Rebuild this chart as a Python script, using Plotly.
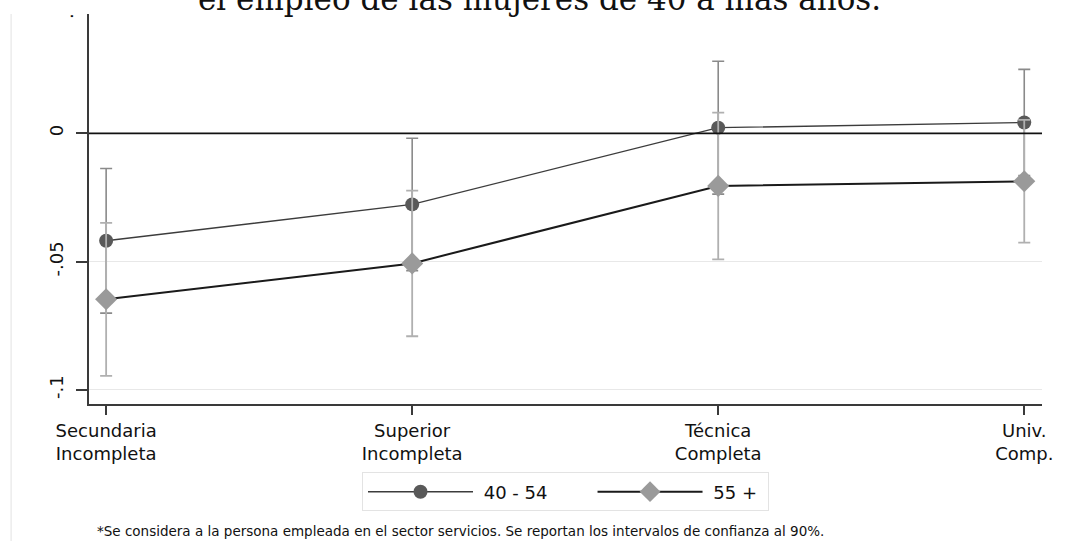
import plotly.graph_objects as go

# ---------------- data ----------------
categories = ["Secundaria<br>Incompleta", "Superior<br>Incompleta",
              "Técnica<br>Completa", "Univ.<br>Comp."]
series_names = ["40 - 54", "55 +"]
coef_40_54 = [-0.0419, -0.0277, 0.0022, 0.0042]
ci_40_54 = [0.0282, 0.0258, 0.0259, 0.0207]
coef_55 = [-0.0647, -0.0507, -0.0205, -0.0187]
ci_55 = [0.0298, 0.0284, 0.0286, 0.0239]
y_tick_vals = [-0.1, -0.05, 0]
y_tick_text = ["-.1", "-.05", "0"]
title_text = "el empleo de las mujeres de 40 a más años."
note_text = ("*Se considera a la persona empleada en el sector servicios. "
             "Se reportan los intervalos de confianza al 90%.")

# ---------------- layout constants ----------------
Y_MIN, Y_MAX = -0.1055, 0.0465
X_MIN, X_MAX = -0.056, 3.058
FONT = "DejaVu Sans"
NB = "\u00a0"

fig = go.Figure()

fig.add_trace(go.Scatter(
    x=categories, y=coef_40_54, name=NB * 1 + series_names[0] + NB * 7,
    mode="lines+markers",
    line=dict(color="#3c3c3c", width=1.4),
    marker=dict(symbol="circle", size=14, color="#595959"),
    error_y=dict(type="data", array=ci_40_54, visible=True,
                 color="#8a8a8a", thickness=1.6, width=6),
))
fig.add_trace(go.Scatter(
    x=categories, y=coef_55, name=NB * 1 + series_names[1] + NB,
    mode="lines+markers",
    line=dict(color="#1a1a1a", width=2),
    marker=dict(symbol="diamond", size=17, color="#9a9a9a"),
    error_y=dict(type="data", array=ci_55, visible=True,
                 color="#b0b0b0", thickness=1.8, width=6),
))

fig.update_layout(
    width=1065, height=541,
    margin=dict(l=89, r=15, t=14, b=137),
    paper_bgcolor="white", plot_bgcolor="white",
    font=dict(family=FONT, size=18, color="#111"),
    showlegend=True,
    legend=dict(
        orientation="h", x=0.5, xanchor="center", y=-0.2256, yanchor="middle",
        bordercolor="#e3e3e3", borderwidth=1, bgcolor="white",
        itemwidth=105, font=dict(size=18, family=FONT),
    ),
    xaxis=dict(
        type="category", range=[X_MIN, X_MAX],
        showline=True, linecolor="#3a3a3a", linewidth=1.8,
        ticks="outside", ticklen=9, tickwidth=1.5, tickcolor="#3a3a3a",
        showgrid=False, zeroline=False,
        tickfont=dict(size=18, family=FONT), ticklabelstandoff=0,
    ),
    yaxis=dict(
        range=[Y_MIN, Y_MAX],
        tickvals=y_tick_vals, ticktext=y_tick_text, tickangle=-90,
        showline=True, linecolor="#3a3a3a", linewidth=1.8,
        ticks="outside", ticklen=11, tickwidth=1.5, tickcolor="#3a3a3a",
        showgrid=True, gridcolor="#e8e8e8", gridwidth=1.2,
        zeroline=False, tickfont=dict(size=18, family=FONT),
        ticklabelstandoff=6,
    ),
    shapes=[
        dict(type="line", xref="paper", yref="y", x0=0, x1=1, y0=0, y1=0,
             line=dict(color="#111", width=1.8), layer="above"),
        dict(type="line", xref="paper", yref="paper",
             x0=-0.0817, x1=-0.0817, y0=1, y1=-0.36,
             line=dict(color="#ececec", width=1.5)),
    ],
    annotations=[
        dict(text=title_text, xref="paper", yref="paper",
             x=0.473, y=1.0 - 5 / 390, xanchor="center", yanchor="bottom",
             showarrow=False,
             font=dict(family="DejaVu Serif", size=31, color="#111")),
        # visible fragment of the clipped ".05" tick label
        dict(text=".", xref="paper", yref="paper", x=-0.023,
             y=1.0 - 2 / 390,
             xanchor="center", yanchor="middle",
             textangle=-90, showarrow=False,
             font=dict(family=FONT, size=18, color="#111")),
        dict(text=note_text, xref="paper", yref="paper",
             x=0.006, y=-0.3256, xanchor="left", yanchor="middle",
             showarrow=False, font=dict(family=FONT, size=13.5, color="#111")),
    ],
)

fig.write_html("out.html", config={"displayModeBar": False},
               post_script="document.body.style.margin='0px';")
